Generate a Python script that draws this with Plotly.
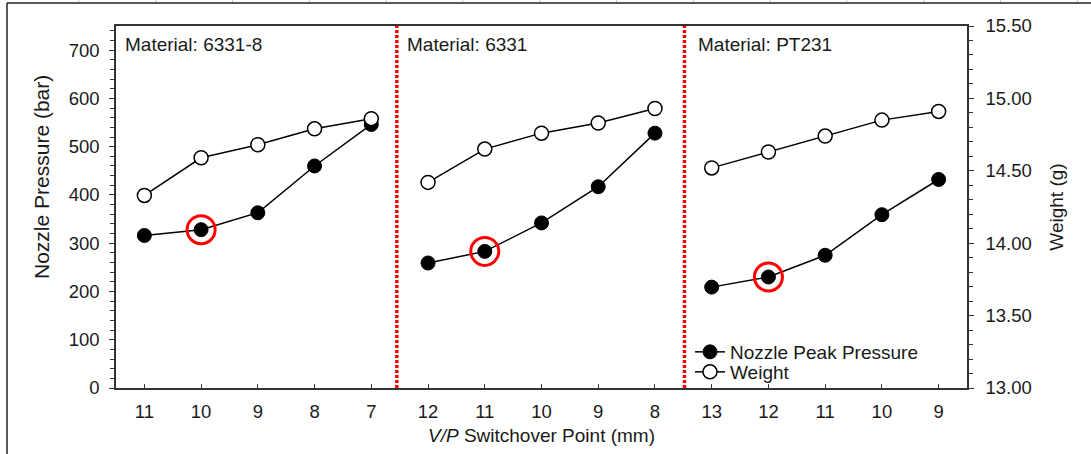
import plotly.graph_objects as go

# ---- data ----
materials = ["6331-8", "6331", "PT231"]
switchover_6331_8 = ["11", "10", "9", "8", "7"]
switchover_6331 = ["12", "11", "10", "9", "8"]
switchover_PT231 = ["13", "12", "11", "10", "9"]

pressure_6331_8 = [316, 328, 363, 460, 546]
pressure_6331 = [259, 283, 342, 417, 528]
pressure_PT231 = [209, 230, 275, 359, 432]

weight_6331_8 = [14.33, 14.59, 14.68, 14.79, 14.86]
weight_6331 = [14.42, 14.65, 14.76, 14.83, 14.93]
weight_PT231 = [14.52, 14.63, 14.74, 14.85, 14.91]

highlight_switchover = ["10", "11", "12"]  # optimal point per material

panel_labels = [switchover_6331_8, switchover_6331, switchover_PT231]
panel_pressure = [pressure_6331_8, pressure_6331, pressure_PT231]
panel_weight = [weight_6331_8, weight_6331, weight_PT231]

# ---- build positions ----
xs, ps, ws, tickvals, ticktext = [], [], [], [], []
hx, hy = [], []
pos = 0
panel_starts = []
for labels, pr, wt, hl in zip(panel_labels, panel_pressure, panel_weight, highlight_switchover):
    panel_starts.append(pos)
    for lab, p, w in zip(labels, pr, wt):
        xs.append(pos); ps.append(p); ws.append(w)
        tickvals.append(pos); ticktext.append(lab)
        if lab == hl:
            hx.append(pos); hy.append(p)
        pos += 1
    xs.append(None); ps.append(None); ws.append(None)

n = pos
FONT = "Liberation Sans, Arial, sans-serif"
TXT = "#1a1a1a"
AX = "#333333"
TICKF = dict(family=FONT, size=18.5, color=TXT)

fig = go.Figure()
fig.add_trace(go.Scatter(
    x=xs, y=ps, mode="lines+markers", name="Nozzle Peak Pressure", legend="legend",
    line=dict(color="black", width=1.5),
    marker=dict(symbol="circle", size=14, color="black", line=dict(color="black", width=1)),
    yaxis="y"))
fig.add_trace(go.Scatter(
    x=hx, y=hy, mode="markers", showlegend=False,
    marker=dict(symbol="circle-open", size=28, color="red", line=dict(color="red", width=3)),
    yaxis="y"))
fig.add_trace(go.Scatter(
    x=xs, y=ws, mode="lines+markers", name="Weight", legend="legend2",
    line=dict(color="black", width=1.5),
    marker=dict(symbol="circle", size=14, color="white", line=dict(color="black", width=1.5)),
    yaxis="y2"))

# separators between materials
sep_positions = [panel_starts[1] - 0.55, panel_starts[2] - 0.48]
shapes = []
for sx in sep_positions:
    shapes.append(dict(type="line", xref="x", yref="paper", x0=sx, x1=sx, y0=0, y1=1,
                       line=dict(color="red", width=3.5, dash="3px,2px")))

# outer chart frame (spreadsheet-like)
W, H = 1091, 454
ml, mr, mt, mb = 116, 124, 26, 66
pw, ph = W - ml - mr, H - mt - mb
def px2x(p): return (p - ml) / pw
def py2y(p): return (H - mb - p) / ph
shapes.append(dict(type="line", xref="paper", yref="paper", x0=px2x(7), x1=px2x(W + 5),
                   y0=py2y(3), y1=py2y(3), line=dict(color="#222", width=1.5)))
shapes.append(dict(type="line", xref="paper", yref="paper", x0=px2x(7), x1=px2x(7),
                   y0=py2y(3), y1=py2y(H + 5), line=dict(color="#222", width=1.5)))
for k in range(14):
    gx = 79 + 76.8 * k
    shapes.append(dict(type="line", xref="paper", yref="paper", x0=px2x(gx), x1=px2x(gx),
                       y0=py2y(0), y1=py2y(2), line=dict(color="#c8c8c8", width=1)))

annotations = []
starts = [-0.5] + sep_positions
shifts = [7, 8, 12]
for m, sx, sh in zip(materials, starts, shifts):
    annotations.append(dict(text="Material: " + m, xref="x", yref="paper", x=sx, y=1,
                            xanchor="left", yanchor="top", xshift=sh, yshift=-6,
                            showarrow=False, font=dict(family=FONT, size=19, color=TXT)))
# left axis title (placed as in the original, slightly above centre)
annotations.append(dict(text="Nozzle Pressure (bar)", xref="paper", yref="paper",
                        x=px2x(41), y=py2y(177), xanchor="center", yanchor="middle",
                        textangle=-90, showarrow=False,
                        font=dict(family=FONT, size=21, color=TXT)))

legend_common = dict(xanchor="left", yanchor="middle", bgcolor="rgba(0,0,0,0)",
                     font=dict(family=FONT, size=19, color=TXT))

fig.update_layout(
    width=W, height=H,
    margin=dict(l=ml, r=mr, t=mt, b=mb),
    paper_bgcolor="white", plot_bgcolor="white",
    font=dict(family=FONT, size=18, color=TXT),
    showlegend=True,
    legend=dict(x=px2x(690), y=py2y(352), **legend_common),
    legend2=dict(x=px2x(690), y=py2y(372), **legend_common),
    shapes=shapes, annotations=annotations,
    xaxis=dict(range=[-0.5, n - 0.5], tickvals=tickvals, ticktext=ticktext,
               ticks="inside", ticklen=4, tickcolor=AX, showline=True, linecolor=AX,
               linewidth=1.5, mirror=True, showgrid=False, zeroline=False,
               ticklabelstandoff=6, tickfont=TICKF,
               title=dict(text="<i>V/P</i> Switchover Point (mm)", standoff=8,
                          font=dict(family=FONT, size=19, color=TXT))),
    yaxis=dict(range=[0, 750], tickvals=list(range(0, 701, 100)),
               ticks="outside", ticklen=5, tickcolor=AX, showline=True, linecolor=AX,
               linewidth=1.5, showgrid=False, zeroline=False,
               minor=dict(dtick=20, ticks="outside", ticklen=4, tickcolor=AX, showgrid=False),
               ticklabelstandoff=6, tickfont=TICKF),
    yaxis2=dict(range=[13, 15.5], overlaying="y", side="right", dtick=0.5, tick0=13,
                tickformat=".2f", ticks="outside", ticklen=5, tickcolor=AX,
                showline=True, linecolor=AX, linewidth=1.5, showgrid=False, zeroline=False,
                minor=dict(dtick=0.1, ticks="outside", ticklen=4, tickcolor=AX, showgrid=False),
                ticklabelstandoff=8, tickfont=TICKF,
                title=dict(text="Weight (g)", standoff=19,
                           font=dict(family=FONT, size=19, color=TXT))),
)

fig.write_html("out.html", config={"displayModeBar": False},
               post_script="document.body.style.margin='0';document.body.style.overflow='hidden';")
